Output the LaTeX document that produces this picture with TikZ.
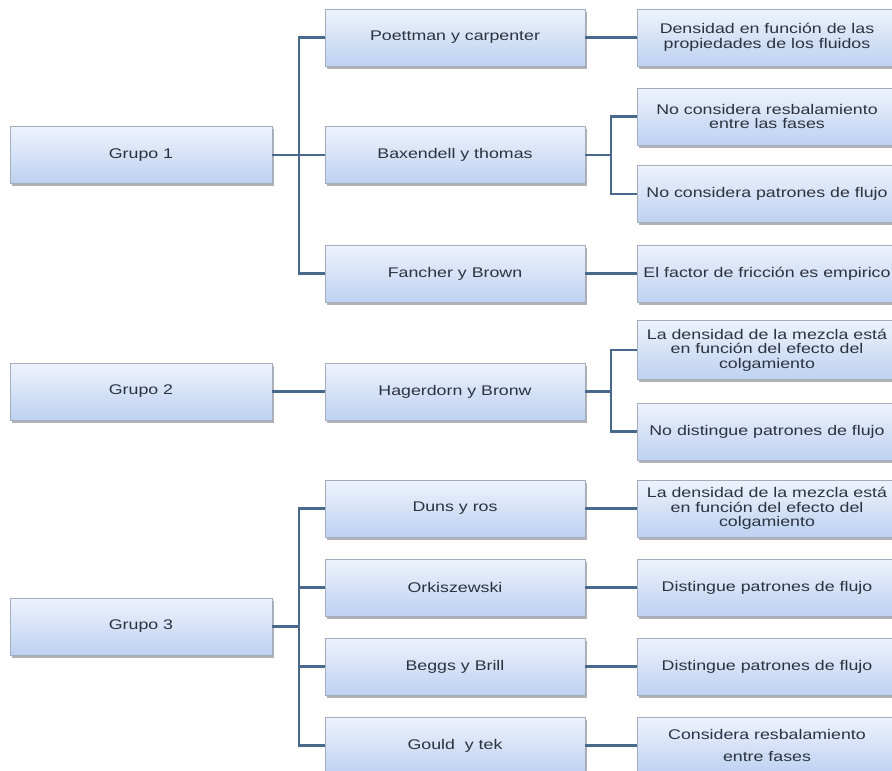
\documentclass[tikz,border=0pt]{standalone}
\usepackage{fontspec}
\setmainfont[FakeStretch=1.27]{Liberation Sans}
\usetikzlibrary{shadows}
\definecolor{boxtop}{HTML}{EEF3FC}
\definecolor{boxbot}{HTML}{BDD1F1}
\definecolor{boxline}{HTML}{A3ADBD}
\definecolor{connc}{HTML}{48698C}
\definecolor{txtc}{HTML}{2B3340}
\tikzset{
  box/.style={rectangle, draw=boxline, line width=0.8pt, top color=boxtop, bottom color=boxbot,
    minimum width=260pt, minimum height=57pt, inner sep=0pt, align=center,
    text=txtc, font=\fontsize{14pt}{14.5pt}\selectfont,
    drop shadow={shadow xshift=1.5pt, shadow yshift=-2.5pt, fill=black, opacity=0.3}},
  gbox/.style={box, minimum width=262pt},
  conn/.style={draw=connc, line width=2.2pt}
}
\begin{document}
\begin{tikzpicture}[x=1pt,y=-1pt]
\useasboundingbox[fill=white] (0,0) rectangle (892,771);
% column 1
\node[gbox] (g1) at (141,155) {Grupo 1};
\node[gbox] (g2) at (141,391.5) {Grupo 2};
\node[gbox] (g3) at (141,626.5) {Grupo 3};
% column 2
\node[box] (p) at (455,37.5) {Poettman y carpenter};
\node[box] (b) at (455,155) {Baxendell y thomas};
\node[box] (f) at (455,273.5) {Fancher y Brown};
\node[box] (h) at (455,391.5) {Hagerdorn y Bronw};
\node[box] (du) at (455,508.5) {Duns y ros};
\node[box] (o) at (455,587.5) {Orkiszewski};
\node[box] (be) at (455,666.5) {Beggs y Brill};
\node[box] (go) at (455,745.5) {Gould\ \ y tek};
% column 3
\node[box] (d1) at (767,37.5) {Densidad en función de las\\propiedades de los fluidos};
\node[box] (nr) at (767,116.5) {No considera resbalamiento\\entre las fases};
\node[box] (np) at (767,194) {No considera patrones de flujo};
\node[box] (ef) at (767,273.5) {El factor de fricción es empirico};
\node[box, minimum height=59pt] (ld1) at (767,350) {La densidad de la mezcla está\\en función del efecto del\\colgamiento};
\node[box] (nd) at (767,431.5) {No distingue patrones de flujo};
\node[box] (ld2) at (767,508.5) {La densidad de la mezcla está\\en función del efecto del\\colgamiento};
\node[box] (dp1) at (767,587.5) {Distingue patrones de flujo};
\node[box] (dp2) at (767,666.5) {Distingue patrones de flujo};
\node[box] (c) at (767,745.5) {Considera resbalamiento\\[7pt]entre fases};
% connectors group 1
\draw[conn] (g1.east) -- (b.west);
\draw[conn] (p.west) -- ++(-26,0) coordinate (t1) -- (t1 |- f.west) -- (f.west);
\draw[conn] (p.east) -- (d1.west);
\draw[conn] (b.east) -- ++(26,0);
\draw[conn] (nr.west) -- ++(-26,0) coordinate (t2) -- (t2 |- np.west) -- (np.west);
\draw[conn] (f.east) -- (ef.west);
% group 2
\draw[conn] (g2.east) -- (h.west);
\draw[conn] (h.east) -- ++(26,0);
\draw[conn] (ld1.west) -- ++(-26,0) coordinate (t3) -- (t3 |- nd.west) -- (nd.west);
% group 3
\draw[conn] (g3.east) -- ++(27,0);
\draw[conn] (du.west) -- ++(-26,0) coordinate (t4) -- (t4 |- go.west) -- (go.west);
\draw[conn] (o.west) -- ++(-26,0);
\draw[conn] (be.west) -- ++(-26,0);
\draw[conn] (du.east) -- (ld2.west);
\draw[conn] (o.east) -- (dp1.west);
\draw[conn] (be.east) -- (dp2.west);
\draw[conn] (go.east) -- (c.west);
\end{tikzpicture}
\end{document}
